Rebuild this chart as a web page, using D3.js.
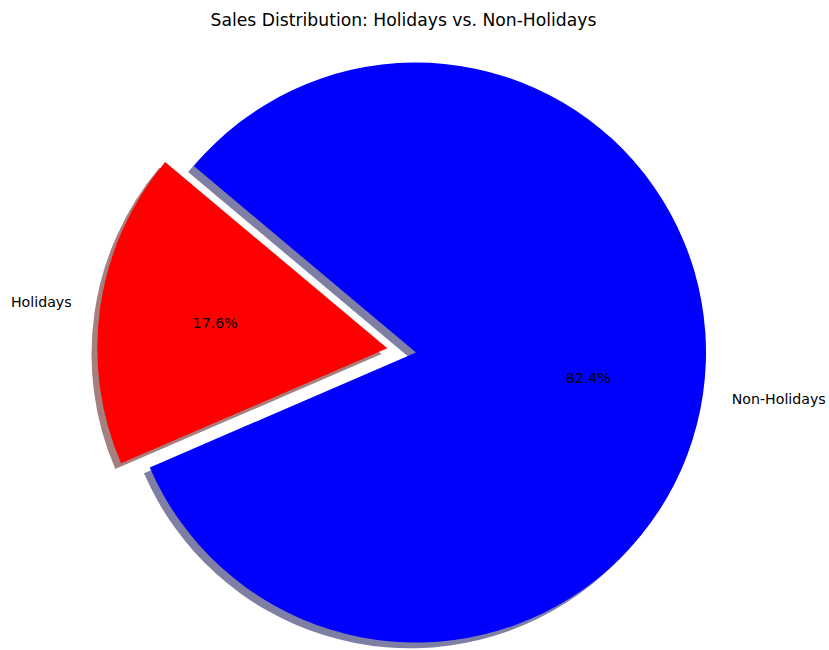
<!DOCTYPE html>
<html>
<head>
<meta charset="utf-8">
<script src="https://cdn.jsdelivr.net/npm/d3@7"></script>
<style>
  html, body { margin: 0; padding: 0; background: #fff; }
  svg { display: block; }
  text { font-family: "DejaVu Sans", sans-serif; fill: #000; }
</style>
</head>
<body>
<svg id="chart" width="829" height="650"></svg>
<script>
// Sales share by day type
const categories = ["Holidays", "Non-Holidays"];
const shares = [17.6, 82.4];
const colors = ["#ff0000", "#0000ff"];
const explode = [0.1, 0];
const title = "Sales Distribution: Holidays vs. Non-Holidays";

const width = 829, height = 650;
const cx = 416, cy = 352.5, radius = 290;
const startDeg = 140;          // counter-clockwise from the +x axis
const labelDistance = 1.1, pctDistance = 0.6;

const svg = d3.select("#chart");

svg.append("text")
  .attr("x", 403.5).attr("y", 26)
  .attr("text-anchor", "middle")
  .style("font-size", "17.2px")
  .text(title);

// d3 angles run clockwise from 12 o'clock; slices go counter-clockwise here
const start = (90 - startDeg) * Math.PI / 180;
const pie = d3.pie().sort(null).value(d => d.v)
  .startAngle(start).endAngle(start - 2 * Math.PI);

const data = categories.map((c, i) => ({ c, v: shares[i], color: colors[i], ex: explode[i] }));
const arcs = pie(data);
const arc = d3.arc().innerRadius(0).outerRadius(radius);

function offsetOf(a) {
  const mid = (a.startAngle + a.endAngle) / 2;
  return [Math.sin(mid) * a.data.ex * radius, -Math.cos(mid) * a.data.ex * radius];
}

const g = svg.append("g").attr("transform", `translate(${cx},${cy})`);

// drop shadows beneath all wedges
const shift = 0.02 * radius;
g.selectAll("path.shadow").data(arcs).join("path")
  .attr("class", "shadow")
  .attr("d", arc)
  .attr("transform", a => { const [dx, dy] = offsetOf(a); return `translate(${dx - shift},${dy + shift})`; })
  .attr("fill", a => { const c = d3.rgb(a.data.color); return d3.rgb(c.r * 0.3, c.g * 0.3, c.b * 0.3); })
  .attr("fill-opacity", 0.5);

g.selectAll("path.wedge").data(arcs).join("path")
  .attr("class", "wedge")
  .attr("d", arc)
  .attr("transform", a => { const [dx, dy] = offsetOf(a); return `translate(${dx},${dy})`; })
  .attr("fill", a => a.data.color);

// category labels outside the pie
g.selectAll("text.label").data(arcs).join("text")
  .attr("class", "label")
  .each(function (a) {
    const mid = (a.startAngle + a.endAngle) / 2;
    const [dx, dy] = offsetOf(a);
    const x = dx + Math.sin(mid) * radius * labelDistance;
    const y = dy - Math.cos(mid) * radius * labelDistance;
    d3.select(this).attr("x", x).attr("y", y)
      .attr("text-anchor", x > 0 ? "start" : "end");
  })
  .attr("dominant-baseline", "central")
  .style("font-size", "14.2px")
  .text(a => a.data.c);

// percentage labels inside the wedges
g.selectAll("text.pct").data(arcs).join("text")
  .attr("class", "pct")
  .each(function (a) {
    const mid = (a.startAngle + a.endAngle) / 2;
    const [dx, dy] = offsetOf(a);
    d3.select(this)
      .attr("x", dx + Math.sin(mid) * radius * pctDistance)
      .attr("y", dy - Math.cos(mid) * radius * pctDistance);
  })
  .attr("text-anchor", "middle")
  .attr("dominant-baseline", "central")
  .style("font-size", "14.2px")
  .text(a => d3.format(".1f")(a.data.v) + "%");
</script>
</body>
</html>
